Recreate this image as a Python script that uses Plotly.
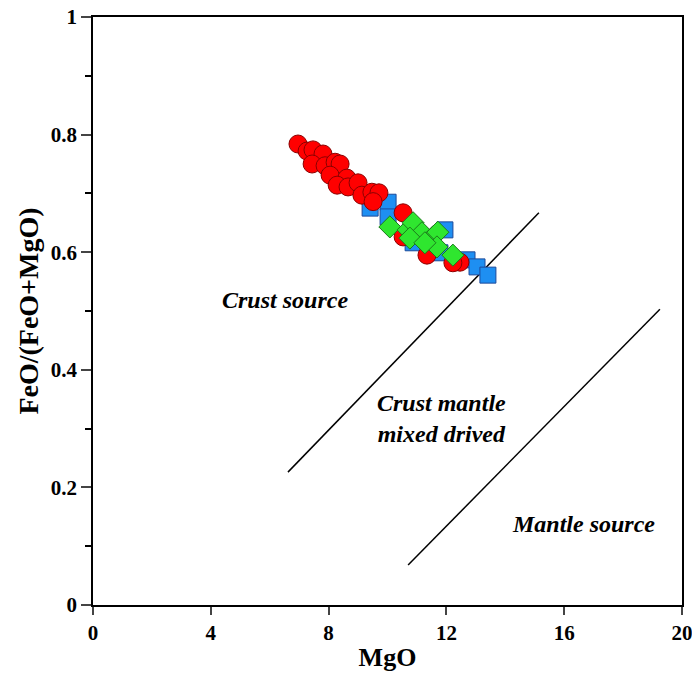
import plotly.graph_objects as go

# Sample compositions: MgO (wt%) vs FeO/(FeO+MgO)
red_mgo = [6.96, 7.27, 7.47, 7.81, 7.44, 7.88, 8.22, 8.39, 8.05, 8.62, 8.29, 8.66,
           9.00, 9.13, 9.47, 9.71, 9.51, 10.53, 10.53, 11.34, 12.46, 12.22]
red_ratio = [0.784, 0.772, 0.774, 0.767, 0.750, 0.747, 0.753, 0.750, 0.731, 0.726,
             0.714, 0.711, 0.718, 0.697, 0.702, 0.701, 0.686, 0.667, 0.626, 0.595,
             0.583, 0.582]

blue_mgo = [9.41, 10.02, 10.02, 10.87, 11.95, 10.87, 11.78, 12.70, 13.04, 13.41]
blue_ratio = [0.675, 0.685, 0.660, 0.638, 0.638, 0.616, 0.599, 0.587, 0.575, 0.561]

green_mgo = [10.08, 10.70, 10.87, 11.17, 11.54, 11.71, 10.76, 11.68, 12.22, 11.27]
green_ratio = [0.643, 0.638, 0.650, 0.633, 0.626, 0.634, 0.624, 0.609, 0.595, 0.616]

# Field boundaries (end points)
upper_boundary_x = [6.62, 15.14]
upper_boundary_y = [0.226, 0.667]
lower_boundary_x = [10.70, 19.25]
lower_boundary_y = [0.068, 0.503]

# Field labels
field_labels = ["Crust source", "Crust mantle<br>mixed drived", "Mantle source"]
field_x = [6.52, 11.85, 16.64]
field_y = [0.519, 0.318, 0.138]

x_ticks = [0, 4, 8, 12, 16, 20]
y_ticks = [0, 0.2, 0.4, 0.6, 0.8, 1]
y_tick_text = ["0", "0.2", "0.4", "0.6", "0.8", "1"]

SERIF = "Liberation Serif"

fig = go.Figure()

for bx, by in [(upper_boundary_x, upper_boundary_y), (lower_boundary_x, lower_boundary_y)]:
    fig.add_trace(go.Scatter(x=bx, y=by, mode="lines",
                             line=dict(color="black", width=1.5),
                             hoverinfo="skip", showlegend=False))

fig.add_trace(go.Scatter(
    x=blue_mgo, y=blue_ratio, mode="markers", showlegend=False,
    marker=dict(symbol="square", size=16, color="#1e8ff2",
                line=dict(color="#1d4a9a", width=1))))

fig.add_trace(go.Scatter(
    x=red_mgo, y=red_ratio, mode="markers", showlegend=False,
    marker=dict(symbol="circle", size=18, color="#ff0000",
                line=dict(color="#8a0000", width=1))))

fig.add_trace(go.Scatter(
    x=green_mgo, y=green_ratio, mode="markers", showlegend=False,
    marker=dict(symbol="diamond", size=17, color="#2fe62f",
                line=dict(color="#1c7a1c", width=1))))

for t, x, y in zip(field_labels, field_x, field_y):
    fig.add_annotation(x=x, y=y, text=t, showarrow=False, xref="x", yref="y",
                       font=dict(family=SERIF, size=24, color="black",
                                 weight="bold", style="italic"))

fig.update_xaxes(
    range=[0, 20], tickvals=x_ticks, ticks="outside", ticklen=8, tickwidth=1.5,
    showline=True, linecolor="black", linewidth=1.8, mirror=True,
    showgrid=False, zeroline=False, automargin=False,
    ticklabeloverflow="allow",
    tickfont=dict(family=SERIF, size=21, color="black", weight="bold"),
    title=dict(text="MgO", standoff=4,
               font=dict(family=SERIF, size=26, color="black", weight="bold")))

fig.update_yaxes(
    range=[0, 1], tickvals=y_ticks, ticktext=y_tick_text, ticks="outside",
    ticklen=10, tickwidth=1.5,
    minor=dict(tickvals=[0.1, 0.3, 0.5, 0.7, 0.9], ticks="outside", ticklen=6,
               tickwidth=1.5, tickcolor="black"),
    showline=True, linecolor="black", linewidth=1.8, mirror=True,
    showgrid=False, zeroline=False, automargin=False,
    ticklabeloverflow="allow",
    tickfont=dict(family=SERIF, size=21, color="black", weight="bold"),
    title=dict(text="FeO/(FeO+MgO)", standoff=4,
               font=dict(family=SERIF, size=28, color="black", weight="bold")))

fig.update_layout(
    width=692, height=680,
    margin=dict(l=93, r=10, t=17, b=75),
    plot_bgcolor="white", paper_bgcolor="white",
)

fig.write_html("out.html")
